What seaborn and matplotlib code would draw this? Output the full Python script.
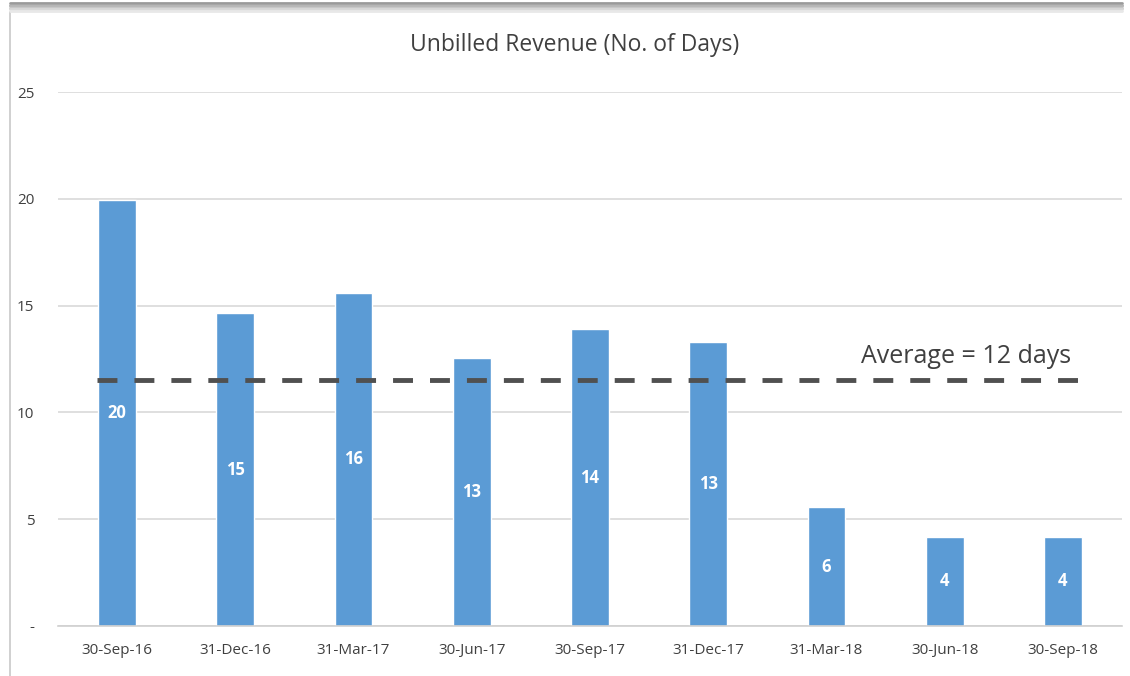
import matplotlib
matplotlib.use("Agg")
import matplotlib.pyplot as plt
import seaborn as sns
import pandas as pd
import numpy as np
from matplotlib.lines import Line2D

categories = ["30-Sep-16", "31-Dec-16", "31-Mar-17", "30-Jun-17", "30-Sep-17",
              "31-Dec-17", "31-Mar-18", "30-Jun-18", "30-Sep-18"]
values = [19.95, 14.65, 15.6, 12.55, 13.9, 13.3, 5.55, 4.17, 4.17]
labels = ["20", "15", "16", "13", "14", "13", "6", "4", "4"]
average = 11.52
average_label = "Average = 12 days"
yticks = [0, 5, 10, 15, 20, 25]
ytick_labels = ["-", "5", "10", "15", "20", "25"]
title = "Unbilled Revenue (No. of Days)"

sns.set_style("white")
plt.rcParams['font.family'] = ['Open Sans', 'DejaVu Sans']

df = pd.DataFrame({"date": categories, "days": values})

fig = plt.figure(figsize=(11.3, 6.76), dpi=100)
ax = fig.add_axes([58/1130, 1-626/676, (1122-58)/1130, (626-92)/676])

sns.barplot(data=df, x="date", y="days", color="#5b9bd5", saturation=1,
            width=0.32, ax=ax, zorder=2)

ax.set_ylim(0, 25)
ax.set_xlim(-0.5, len(categories) - 0.5)
ax.set_yticks(yticks)
ax.set_yticklabels(ytick_labels)
ax.yaxis.grid(True, color="#d9d9d9", linewidth=1.2, zorder=0)
ax.set_axisbelow(True)
for s in ["top", "right", "left"]:
    ax.spines[s].set_visible(False)
ax.spines["bottom"].set_color("#d0d0d0")
ax.spines["bottom"].set_linewidth(1.2)
ax.tick_params(axis="both", length=0, labelsize=11, colors="#404040")
ax.tick_params(axis="y", pad=17)
ax.tick_params(axis="x", pad=12)
ax.set_xlabel("")
ax.set_ylabel("")

for i, (v, lab) in enumerate(zip(values, labels)):
    ax.text(i, v / 2, lab, ha="center", va="center", color="white",
            fontsize=12, fontweight="bold")

ax.hlines(average, -0.17, len(categories) - 0.78, colors="#505050",
          linestyles=(0, (4.1, 3.5)), linewidth=3.5, zorder=3)
ax.text(7.18, average + 0.5, average_label, ha="center", va="bottom",
        color="#404040", fontsize=18)

fig.text(575/1130, 1 - 45/676, title, ha="center", va="center",
         fontsize=16.5, color="#404040")

# chart frame: left border and top shadow
fig.add_artist(Line2D([10/1130, 10/1130], [0, 1 - 12/676],
                      transform=fig.transFigure, color="#c8c8c8", lw=1.2))
for k, c in enumerate(["#9a9a9a", "#a8a8a8", "#b8b8b8", "#c8c8c8", "#d8d8d8", "#e8e8e8"]):
    y = 1 - (3 + k * 1.6) / 676
    fig.add_artist(Line2D([10/1130, 1122/1130], [y, y],
                          transform=fig.transFigure, color=c, lw=2))

fig.savefig("out.png", dpi=100)
